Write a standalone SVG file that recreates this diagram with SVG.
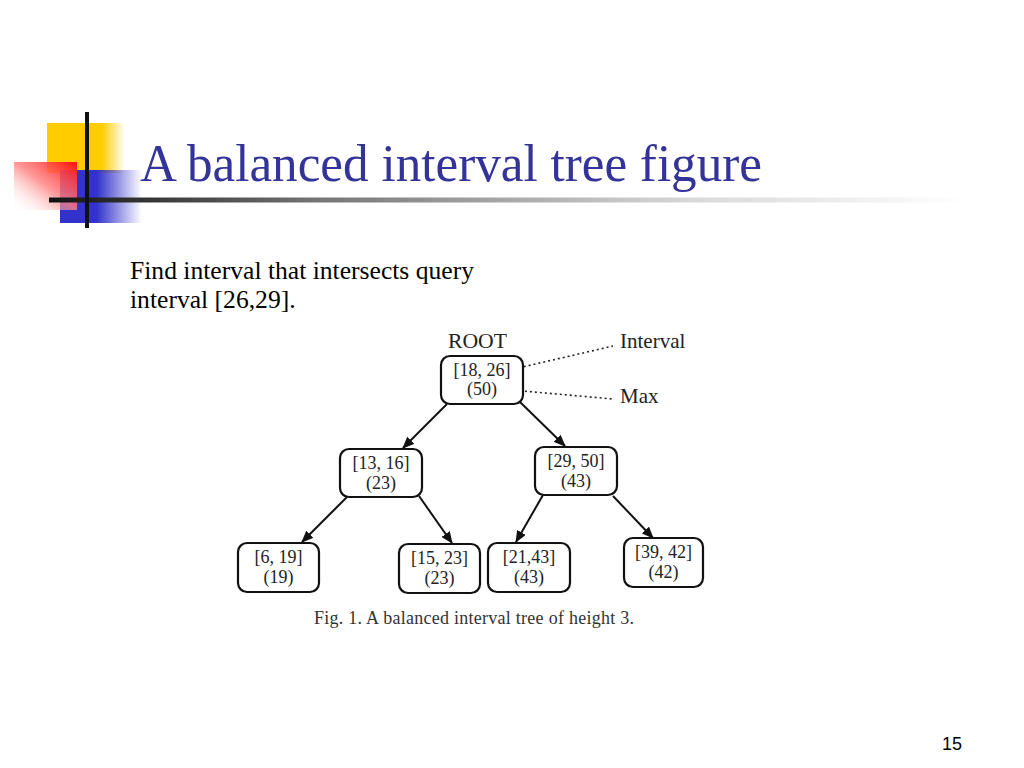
<svg xmlns="http://www.w3.org/2000/svg" width="1024" height="768" viewBox="0 0 1024 768">
<defs>
<linearGradient id="gy" x1="0" y1="0" x2="1" y2="0">
<stop offset="0" stop-color="#FFCC00"/><stop offset="0.7" stop-color="#FFCC00"/><stop offset="1" stop-color="#FFCC00" stop-opacity="0"/>
</linearGradient>
<linearGradient id="gb" x1="0" y1="0" x2="1" y2="0">
<stop offset="0" stop-color="#3333CC"/><stop offset="0.45" stop-color="#3333CC"/><stop offset="1" stop-color="#3333CC" stop-opacity="0"/>
</linearGradient>
<linearGradient id="gr" x1="1" y1="0" x2="0" y2="1">
<stop offset="0" stop-color="#FF1010"/><stop offset="0.5" stop-color="#FF8080" stop-opacity="0.8"/><stop offset="1" stop-color="#FFFFFF" stop-opacity="0"/>
</linearGradient>
<linearGradient id="gl" x1="0" y1="0" x2="1" y2="0">
<stop offset="0" stop-color="#111111"/><stop offset="0.3" stop-color="#777777"/><stop offset="0.7" stop-color="#D8D8D8"/><stop offset="1" stop-color="#FFFFFF"/>
</linearGradient>
<marker id="ah" markerUnits="userSpaceOnUse" markerWidth="12" markerHeight="10" refX="11" refY="5" orient="auto">
<path d="M0,0 L12,5 L0,10 Z" fill="#111"/>
</marker>
<style>
.box{fill:#fff;stroke:#111;stroke-width:2.2}
.nt{font-family:"Liberation Serif","Times New Roman",serif;font-size:18px;fill:#222;text-anchor:middle}
.lbl{font-family:"Liberation Serif","Times New Roman",serif;font-size:21px;fill:#222}
.edge{stroke:#111;stroke-width:2;fill:none;marker-end:url(#ah)}
.dot{stroke:#222;stroke-width:1.6;stroke-dasharray:2 3;fill:none}
</style>
</defs>
<rect width="1024" height="768" fill="#fff"/>
<g id="decoration">
<rect x="47" y="123" width="78" height="50" fill="url(#gy)"/>
<rect x="60" y="170" width="82" height="53" fill="url(#gb)"/>
<rect x="14" y="162" width="63" height="48" fill="url(#gr)"/>
<rect x="49" y="197.5" width="916" height="5" fill="url(#gl)"/>
<rect x="85" y="112" width="4" height="116" fill="#111"/>
</g>
<text id="title" x="140" y="181" font-family="'Liberation Serif','Times New Roman',serif" font-size="52" fill="#333399" textLength="622" lengthAdjust="spacingAndGlyphs">A balanced interval tree figure</text>
<g id="body" font-family="'Liberation Serif','Times New Roman',serif" font-size="25.6" fill="#000">
<text x="130" y="279" textLength="344" lengthAdjust="spacingAndGlyphs">Find interval that intersects query</text>
<text x="130" y="308">interval [26,29].</text>
</g>
<g id="connectors">
<line class="edge" x1="447" y1="404" x2="403" y2="448"/>
<line class="edge" x1="520" y1="402" x2="565" y2="446"/>
<line class="edge" x1="347" y1="497" x2="302" y2="542"/>
<line class="edge" x1="419" y1="496" x2="452" y2="543"/>
<line class="edge" x1="543" y1="495" x2="516" y2="542"/>
<line class="edge" x1="613" y1="496" x2="653" y2="538"/>
<line class="dot" x1="514" y1="369" x2="613" y2="346"/>
<line class="dot" x1="500" y1="389" x2="613" y2="399"/>
</g>
<g id="labels">
<text class="lbl" x="448" y="348" textLength="59" lengthAdjust="spacingAndGlyphs">ROOT</text>
<text class="lbl" x="620" y="348">Interval</text>
<text class="lbl" x="620" y="403">Max</text>
</g>
<g id="node-root">
<rect class="box" x="441" y="356" width="82" height="48" rx="9"/>
<text class="nt" x="482" y="376">[18, 26]</text>
<text class="nt" x="482" y="395">(50)</text>
</g>
<g id="node-13-16">
<rect class="box" x="340" y="449" width="82" height="48" rx="9"/>
<text class="nt" x="381" y="469">[13, 16]</text>
<text class="nt" x="381" y="489">(23)</text>
</g>
<g id="node-29-50">
<rect class="box" x="535" y="447" width="82" height="48" rx="9"/>
<text class="nt" x="576" y="467">[29, 50]</text>
<text class="nt" x="576" y="487">(43)</text>
</g>
<g id="node-6-19">
<rect class="box" x="238" y="543" width="81" height="49" rx="9"/>
<text class="nt" x="278.5" y="563">[6, 19]</text>
<text class="nt" x="278.5" y="583">(19)</text>
</g>
<g id="node-15-23">
<rect class="box" x="399" y="544" width="81" height="49" rx="9"/>
<text class="nt" x="439.5" y="564">[15, 23]</text>
<text class="nt" x="439.5" y="584">(23)</text>
</g>
<g id="node-21-43">
<rect class="box" x="488" y="543" width="82" height="49" rx="9"/>
<text class="nt" x="529" y="563">[21,43]</text>
<text class="nt" x="529" y="583">(43)</text>
</g>
<g id="node-39-42">
<rect class="box" x="624" y="538" width="79" height="49" rx="9"/>
<text class="nt" x="663.5" y="558">[39, 42]</text>
<text class="nt" x="663.5" y="578">(42)</text>
</g>
<text id="caption" x="314" y="624" font-family="'Liberation Serif','Times New Roman',serif" font-size="18" fill="#333" textLength="320" lengthAdjust="spacing">Fig. 1. A balanced interval tree of height 3.</text>
<text id="page" x="962" y="750" text-anchor="end" font-family="'Liberation Sans',Arial,sans-serif" font-size="18" fill="#000">15</text>
</svg>
